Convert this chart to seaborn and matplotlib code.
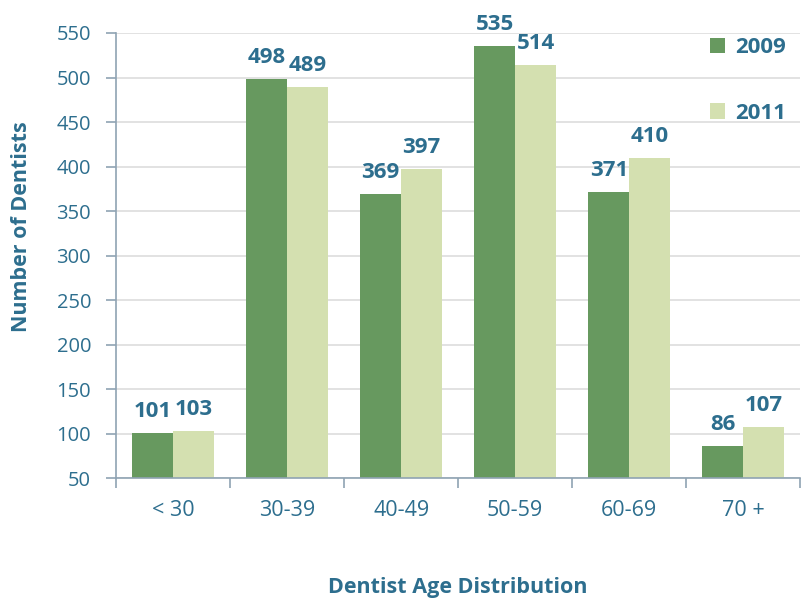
import matplotlib
matplotlib.use("Agg")
import matplotlib.pyplot as plt
import seaborn as sns
import pandas as pd

categories = ["< 30", "30-39", "40-49", "50-59", "60-69", "70 +"]
years = ["2009", "2011"]
values_2009 = [101, 498, 369, 535, 371, 86]
values_2011 = [103, 489, 397, 514, 410, 107]
y_ticks = [50, 100, 150, 200, 250, 300, 350, 400, 450, 500, 550]

df = pd.DataFrame({
    "Age": categories * 2,
    "Year": ["2009"] * len(categories) + ["2011"] * len(categories),
    "Count": values_2009 + values_2011,
})

sns.set_theme(style="white")
plt.rcParams["font.family"] = ["Open Sans", "DejaVu Sans"]

text_color = "#2d6e8e"
palette = {"2009": "#67995f", "2011": "#d4e0b0"}

fig = plt.figure(figsize=(8.06, 6.0), dpi=100)
ax = fig.add_axes([0.144, 0.203, 0.849, 0.742])

sns.barplot(data=df, x="Age", y="Count", hue="Year", hue_order=years,
            order=categories, palette=palette, width=0.72, ax=ax,
            saturation=1, edgecolor="none", legend=True)

ax.set_ylim(50, 550)
ax.set_yticks(y_ticks)
ax.set_xlim(-0.5, len(categories) - 0.5)
ax.yaxis.grid(True, color="#dddddd", linewidth=1.2)
ax.set_axisbelow(True)

for side in ["top", "right"]:
    ax.spines[side].set_visible(False)
for side in ["left", "bottom"]:
    ax.spines[side].set_color("#8fa3b3")
    ax.spines[side].set_linewidth(1.2)

ax.set_xticks(range(len(categories)))
ax.set_xticklabels(categories)
ax.set_xticks([i - 0.5 for i in range(len(categories) + 1)], minor=True)
ax.tick_params(axis="x", which="major", length=0, pad=16, labelsize=15.5, labelcolor=text_color)
ax.tick_params(axis="x", which="minor", length=7, width=1.2, color="#8fa3b3", direction="out", bottom=True)
ax.tick_params(axis="y", which="major", length=7, width=1.2, color="#8fa3b3", direction="out", left=True,
               labelsize=14.5, labelcolor=text_color, pad=11)

for container in ax.containers:
    ax.bar_label(container, fmt="%d", padding=8, fontsize=16, fontweight="bold", color=text_color)

ax.set_ylabel("Number of Dentists", fontsize=15.5, fontweight="bold", color=text_color)
ax.yaxis.set_label_coords(-0.123, 0.564)
ax.set_xlabel("Dentist Age Distribution", fontsize=15.5, fontweight="bold", color=text_color)
ax.xaxis.set_label_coords(0.5, -0.222)

leg = ax.legend(loc="upper left", bbox_to_anchor=(0.838, 1.035), frameon=False,
                fontsize=16, handlelength=0.7, handleheight=0.7, handletextpad=0.45,
                labelspacing=2.0)
for t in leg.get_texts():
    t.set_color(text_color)
    t.set_fontweight("bold")

fig.savefig("out.png", dpi=100)
